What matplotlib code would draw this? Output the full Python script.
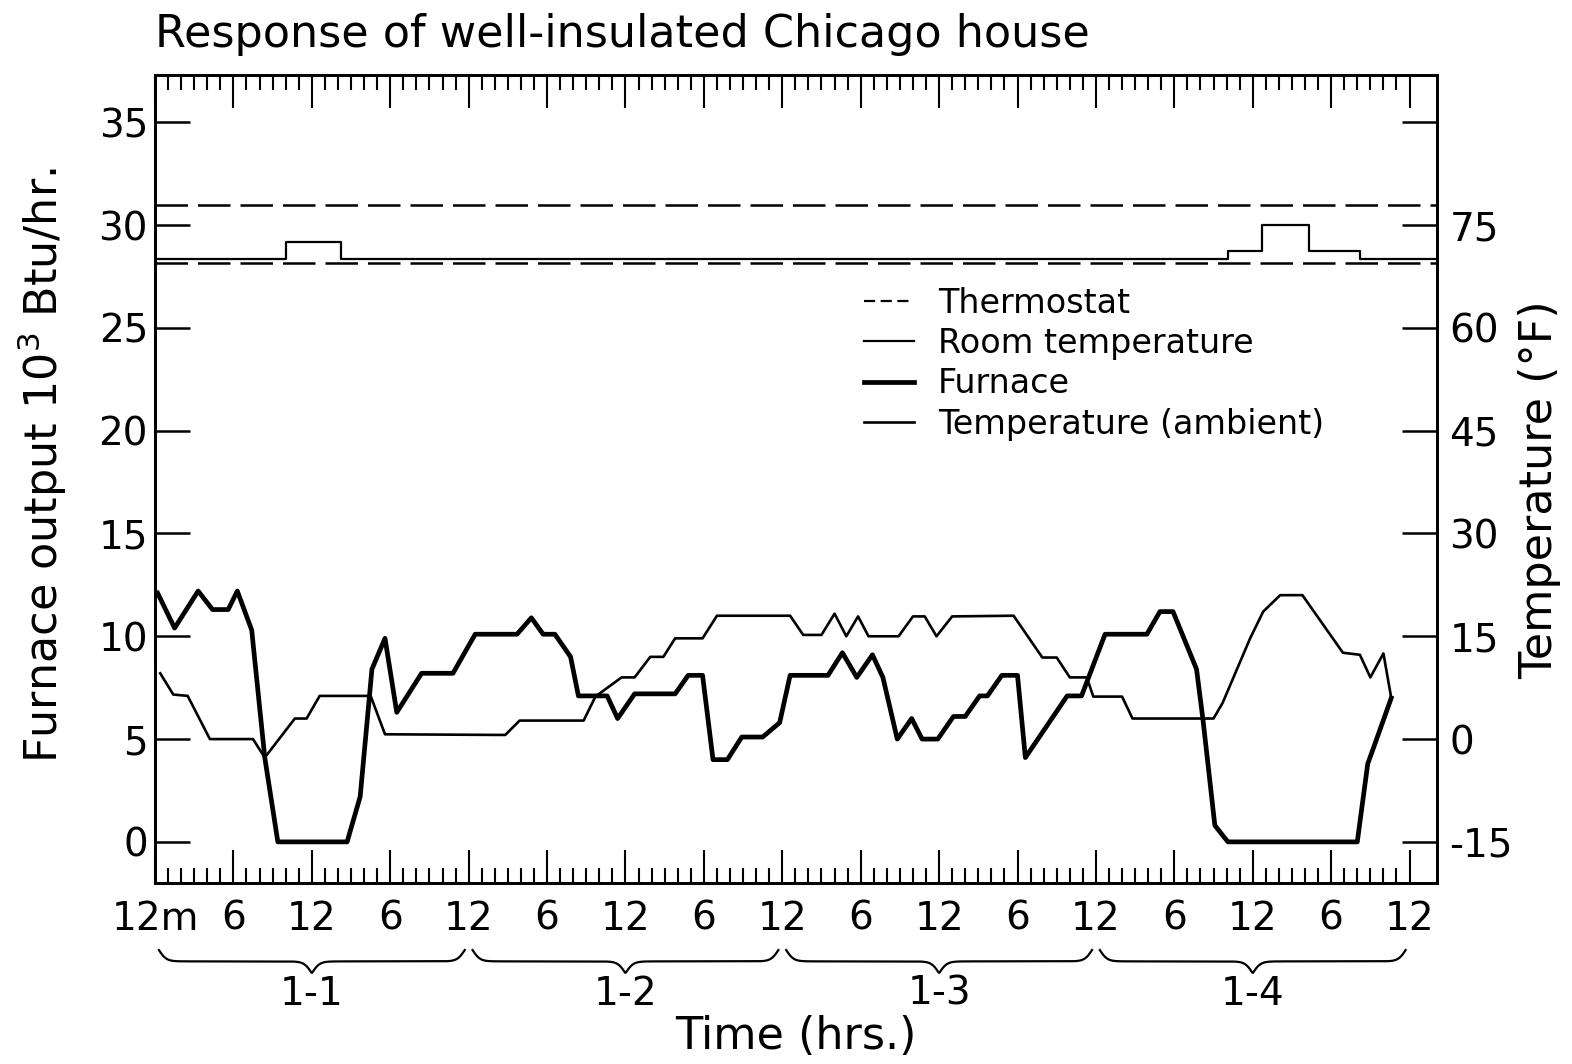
#!/usr/bin/env python3
"""Response of well-insulated Chicago house: furnace output (left axis) with
ambient / room temperature and thermostat band (right axis) over four days."""
import matplotlib
matplotlib.use("Agg")
import matplotlib.pyplot as plt
import numpy as np
from matplotlib.lines import Line2D
from matplotlib.ticker import FixedLocator

# time axis in hours from midnight of day 1-1
furnace_hr = [0.2, 1.5, 3.3, 4.4, 5.6, 6.3, 7.4, 8.4, 9.4, 14.7,
              15.7, 16.6, 17.6, 18.5, 20.4, 22.8, 24.5, 27.7, 28.8, 29.7,
              30.6, 31.8, 32.4, 34.6, 35.4, 36.7, 39.8, 40.8, 41.9, 42.7,
              43.8, 44.9, 46.5, 47.8, 48.6, 51.5, 52.6, 53.7, 54.9, 55.7,
              56.8, 57.9, 58.7, 59.9, 61.1, 62.0, 63.1, 63.7, 64.8, 66.0,
              66.6, 69.8, 70.9, 72.7, 75.9, 76.9, 77.9, 79.7, 80.2, 81.1,
              82.1, 92.0, 92.8, 93.2, 94.6]
furnace_kbtu = [12.1, 10.4, 12.2, 11.3, 11.3, 12.2, 10.3, 4.1, 0.0, 0.0,
                2.2, 8.4, 9.9, 6.3, 8.2, 8.2, 10.1, 10.1, 10.9, 10.1,
                10.1, 9.0, 7.1, 7.1, 6.0, 7.2, 7.2, 8.1, 8.1, 4.0,
                4.0, 5.1, 5.1, 5.8, 8.1, 8.1, 9.2, 8.0, 9.1, 8.0,
                5.0, 6.0, 5.0, 5.0, 6.1, 6.1, 7.1, 7.1, 8.1, 8.1,
                4.1, 7.1, 7.1, 10.1, 10.1, 11.2, 11.2, 8.4, 5.9, 0.8,
                0.0, 0.0, 3.8, 4.5, 7.0]

ambient_hr = [0.4, 1.4, 2.5, 4.2, 7.5, 8.4, 10.7, 11.6, 12.6, 16.5,
              17.6, 26.8, 27.9, 32.8, 33.7, 35.7, 36.7, 37.9, 38.9, 39.8,
              41.9, 43.0, 48.6, 49.6, 51.0, 52.0, 52.9, 53.8, 54.6, 56.9,
              58.0, 58.9, 59.8, 61.0, 65.7, 67.9, 69.0, 70.0, 71.3, 71.8,
              74.0, 74.8, 81.0, 81.7, 83.8, 84.8, 86.1, 87.8, 90.9, 92.2,
              93.0, 94.0, 94.6]
ambient_f = [9.6, 6.5, 6.3, 0.0, 0.0, -2.7, 3.0, 3.0, 6.3, 6.3,
             0.7, 0.6, 2.7, 2.7, 6.2, 9.0, 9.0, 12.0, 12.0, 14.7,
             14.7, 18.0, 18.0, 15.2, 15.2, 18.3, 15.0, 17.9, 15.0, 15.0,
             17.9, 17.9, 15.0, 17.9, 18.0, 11.9, 11.9, 9.0, 9.0, 6.2,
             6.2, 3.0, 3.0, 5.3, 14.7, 18.6, 21.0, 21.0, 12.6, 12.3,
             9.0, 12.5, 6.0]

room_hr = [0.0, 10.0, 14.2, 82.1, 84.7, 88.3, 92.2, 98.1]
room_f = [70.0, 72.5, 70.0, 71.2, 75.0, 71.2, 70.0, 70.0]
thermostat_f = [69.4, 77.9]

hour_ticks = list(range(0, 97, 6))
hour_labels = ["12m", "6", "12", "6", "12", "6", "12", "6", "12",
               "6", "12", "6", "12", "6", "12", "6", "12"]
day_start = [0, 24, 48, 72]
day_labels = ["1-1", "1-2", "1-3", "1-4"]

left_ticks = [0, 5, 10, 15, 20, 25, 30, 35]
right_ticks = [-15, 0, 15, 30, 45, 60, 75, 90]
right_labels = ["-15", "0", "15", "30", "45", "60", "75", ""]

XMAX = 98.1
LEFT_LIM = (-2.0, 37.3)
RIGHT_LIM = (3 * LEFT_LIM[0] - 15, 3 * LEFT_LIM[1] - 15)  # 10^3 Btu/hr -> F grid


def draw_brace(ax, x0, x1, y_top, depth):
    n = 400
    xs = np.linspace(x0, x1, n)
    half = xs[: n // 2]
    beta = 3.5
    yh = 1 / (1 + np.exp(-beta * (half - half[0]))) + 1 / (1 + np.exp(-beta * (half - half[-1])))
    ys = np.concatenate([yh, yh[::-1]])
    ax.plot(xs, y_top - depth * (ys - 0.5), transform=ax.get_xaxis_transform(),
            clip_on=False, color="black", lw=1.6)


def main():
    fig = plt.figure(figsize=(15.72, 10.64), dpi=100)
    ax = fig.add_axes([155 / 1572, 181 / 1064, 1282 / 1572, 808 / 1064])
    ax2 = ax.twinx()

    # furnace on the left axis
    furn, = ax.plot(furnace_hr, furnace_kbtu, color="black", lw=3.4,
                    solid_joinstyle="round", label="Furnace")

    # temperatures on the right axis
    for t in thermostat_f:
        ax2.axhline(t, color="black", lw=1.8, ls=(0, (13, 4)))
    room, = ax2.step(room_hr, room_f, where="post", color="black", lw=1.6,
                     label="Room temperature")
    amb, = ax2.plot(ambient_hr, ambient_f, color="black", lw=1.9,
                    label="Temperature (ambient)")
    th_key = Line2D([], [], color="black", lw=1.6, ls=(0, (5, 2.5)), label="Thermostat")

    ax.set_xlim(0, XMAX)
    ax.set_ylim(*LEFT_LIM)
    ax2.set_ylim(*RIGHT_LIM)

    # x ruler: hourly ticks, long ones every 6 hours, top and bottom, inward
    ax.xaxis.set_major_locator(FixedLocator(hour_ticks))
    ax.xaxis.set_minor_locator(FixedLocator(list(range(0, 97))))
    ax.set_xticklabels(hour_labels, fontsize=28)
    ax.tick_params(axis="x", which="both", direction="in", top=True, bottom=True, width=1.5)
    ax.tick_params(axis="x", which="major", length=24, pad=12)
    ax.tick_params(axis="x", which="minor", length=11)

    ax.set_yticks(left_ticks)
    ax.set_yticklabels([str(t) for t in left_ticks], fontsize=28)
    ax.tick_params(axis="y", direction="in", length=25, width=1.8, pad=5, right=False)

    ax2.set_yticks(right_ticks)
    ax2.set_yticklabels(right_labels, fontsize=28)
    ax2.tick_params(axis="y", direction="in", length=25, width=1.8, pad=9)

    for a in (ax, ax2):
        for s in a.spines.values():
            s.set_linewidth(2.0)

    # day braces under the hour labels
    for d0, lab in zip(day_start, day_labels):
        draw_brace(ax, d0 + 0.3, d0 + 24 - 0.3, -0.083, 0.028)
        ax.text(d0 + 12, -0.137, lab, transform=ax.get_xaxis_transform(),
                ha="center", va="center", fontsize=28)

    ax.text(0.5, -0.19, "Time (hrs.)", transform=ax.transAxes, ha="center",
            va="center", fontsize=32)

    ax2.legend(handles=[th_key, room, furn, amb], loc="upper left",
               bbox_to_anchor=(0.553, 0.738), frameon=False, fontsize=24,
               handlelength=1.5, handletextpad=0.72, labelspacing=0.22,
               borderpad=0, borderaxespad=0)

    fig.text(155 / 1572, 1 - 34 / 1064, "Response of well-insulated Chicago house",
             ha="left", va="center", fontsize=32)
    fig.text(42 / 1572, 1 - 465 / 1064, "Furnace output 10$^3$ Btu/hr.",
             rotation=90, ha="center", va="center", fontsize=32)
    fig.text(1540 / 1572, 1 - 490 / 1064, "Temperature (°F)",
             rotation=90, ha="center", va="center", fontsize=32)

    fig.savefig("out.png", dpi=100, facecolor="white")


if __name__ == "__main__":
    main()
